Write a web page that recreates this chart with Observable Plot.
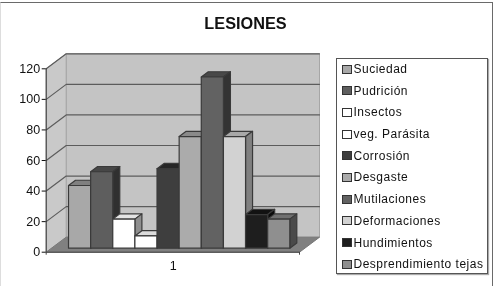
<!DOCTYPE html>
<html>
<head>
<meta charset="utf-8">
<script src="https://cdn.jsdelivr.net/npm/d3@7"></script>
<script src="https://cdn.jsdelivr.net/npm/@observablehq/plot@0.6"></script>
<style>
html,body{margin:0;padding:0;background:#fff;}
#wrap{position:relative;width:499px;height:286px;overflow:hidden;font-family:"Liberation Sans",Arial,sans-serif;color:#111;filter:blur(0.45px);}
#frame{position:absolute;left:0;top:1.5px;width:493px;height:290px;border:1px solid #6a6a6a;border-left-color:#ddd;box-sizing:border-box;}
#title{position:absolute;left:0;width:491px;top:14px;text-align:center;font-weight:bold;font-size:16.3px;line-height:18px;}
#legend{position:absolute;left:336px;top:58px;width:152px;height:216px;box-sizing:border-box;border:1px solid #555;box-shadow:1px 1px 1px #aaa;background:#fff;padding:0;display:flex;flex-direction:column;justify-content:flex-start;}
.row{display:flex;align-items:center;flex:none;height:21.7px;position:relative;top:-0.8px;font-size:12px;letter-spacing:.5px;white-space:nowrap;}
.sw{width:8px;height:7px;border:1px solid #333;margin:0 1.5px 0 5px;flex:none;}
svg{position:absolute;left:0;top:0;}
</style>
</head>
<body>
<div id="wrap"><div id="frame"></div><div id="title">LESIONES</div><div id="legend"></div></div>
<script>
const categories = ["Suciedad","Pudrición","Insectos","veg. Parásita","Corrosión","Desgaste","Mutilaciones","Deformaciones","Hundimientos","Desprendimiento tejas"];
const values = [41, 50, 19, 8, 52, 73, 112, 73, 22, 19];
const frontColors = ["#a8a8a8","#5e5e5e","#ffffff","#ffffff","#3e3e3e","#ababab","#626262","#d2d2d2","#1e1e1e","#8f8f8f"];
const topColors   = ["#808080","#474747","#e4e4e4","#dcdcdc","#262626","#8a8a8a","#484848","#a8a8a8","#121212","#707070"];
const sideColors  = ["#6a6a6a","#303030","#8e8e8e","#8e8e8e","#202020","#6f6f6f","#333333","#808080","#0c0c0c","#4a4a4a"];
const yTicks = [0,20,40,60,80,100,120];
const seriesLabel = "1";

// Oblique projection: depth 0 = front edge of the floor, depth 1 = back wall
const unitPx = 22.13, pxPerValue = 183.4/120;
const depthX = 20/unitPx, depthY = 15/pxPerValue;
const xMax = 253.3/unitPx, xCenter = 127/unitPx;
const firstBar = 0.764, barD0 = 0.27, barD1 = 0.62;
const P = (x,d,v)=>({x:x+d*depthX, y:v+d*depthY});

const faces = [];
const face = (id,fill,stroke,pts)=>{
  pts.concat([pts[0]]).forEach(p=>faces.push({id,fill,stroke,...p}));
};
// walls and floor
face("wall","#c4c4c4","#a6a6a6",[P(0,1,0),P(xMax,1,0),P(xMax,1,120),P(0,1,120)]);
face("side","#c9c9c9","#a6a6a6",[P(0,0,0),P(0,1,0),P(0,1,120),P(0,0,120)]);
face("floor","#808080","#777777",[P(0,0,0),P(xMax,0,0),P(xMax,1,0),P(0,1,0)]);

const grid = [];
yTicks.filter(t=>t>0).forEach(t=>{
  [P(0,0,t),P(0,1,t),P(xMax,1,t)].forEach(p=>grid.push({t,...p}));
});

// bars, painted left to right
values.forEach((v,i)=>{
  const a=firstBar+i, b=a+1, s="#3a3a3a";
  face("top"+i,topColors[i],s,[P(a,barD0,v),P(b,barD0,v),P(b,barD1,v),P(a,barD1,v)]);
  face("sd"+i,sideColors[i],s,[P(b,barD0,0),P(b,barD1,0),P(b,barD1,v),P(b,barD0,v)]);
  face("fr"+i,frontColors[i],s,[P(a,barD0,0),P(b,barD0,0),P(b,barD0,v),P(a,barD0,v)]);
});

const chart = Plot.plot({
  width:499, height:286,
  marginLeft:45.7, marginRight:200, marginTop:68.3, marginBottom:34.3,
  x:{type:"linear",domain:[0,xMax],range:[45.7,299]},
  y:{type:"linear",domain:[0,120],range:[251.7,68.3]},
  style:{background:"transparent",fontFamily:"'Liberation Sans',Arial,sans-serif"},
  marks:[
    Plot.line(faces.filter(f=>["wall","side","floor"].includes(f.id)),{x:"x",y:"y",z:"id",fill:"fill",stroke:"stroke",strokeWidth:1}),
    Plot.line(grid,{x:"x",y:"y",z:"t",stroke:"#5c5c5c",strokeWidth:1.2}),
    Plot.line(faces.filter(f=>!["wall","side","floor"].includes(f.id)),{x:"x",y:"y",z:"id",fill:"fill",stroke:"stroke",strokeWidth:1.2}),
    Plot.ruleX([0],{y1:0,y2:120,stroke:"#333"}),
    Plot.ruleY([0],{stroke:"#444",strokeWidth:1}),
    Plot.axisY({ticks:yTicks,tickSize:4,tickPadding:2,fontSize:12.5,label:null,color:"#111"}),
    Plot.axisX({ticks:[0,xMax],tickSize:3,tickFormat:()=>"",label:null,stroke:"#444"}),
    Plot.axisX({ticks:[xCenter],tickSize:0,tickPadding:9,fontSize:12.5,tickFormat:()=>seriesLabel,label:null,color:"#111"})
  ]
});
document.getElementById("wrap").appendChild(chart);

const legend = document.getElementById("legend");
categories.forEach((c,i)=>{
  const r=document.createElement("div"); r.className="row";
  const s=document.createElement("span"); s.className="sw"; s.style.background=frontColors[i];
  const t=document.createElement("span"); t.textContent=c;
  r.append(s,t); legend.append(r);
});
document.getElementById("wrap").appendChild(legend);
</script>
</body>
</html>
